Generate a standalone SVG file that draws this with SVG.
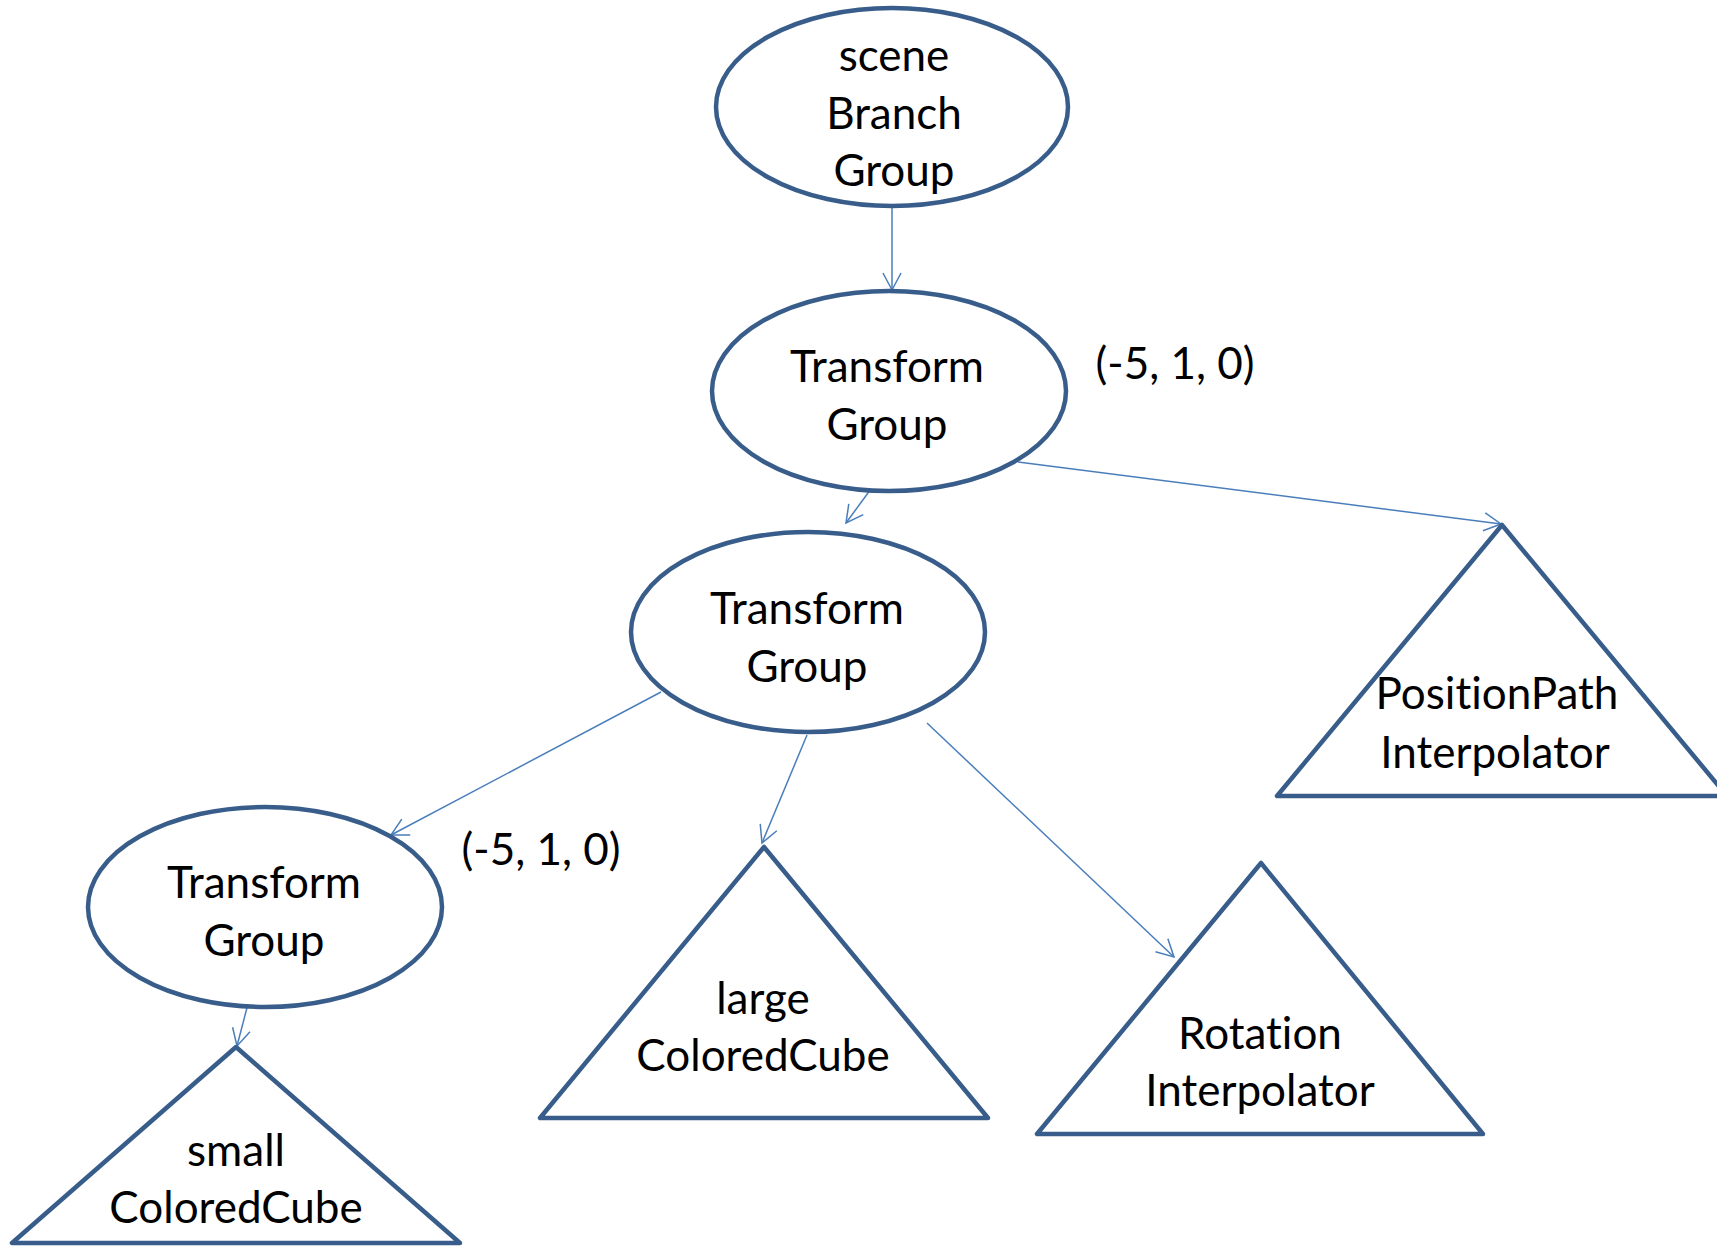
<svg xmlns="http://www.w3.org/2000/svg" width="1717" height="1246" viewBox="0 0 1717 1246">
<style>
.node{fill:#ffffff;stroke:#385D8A;stroke-width:4.5;stroke-linejoin:round}
.lbl{font-family:Lato,"Liberation Sans",sans-serif;font-size:44px;fill:#000000;text-anchor:middle;font-variant-ligatures:none;font-feature-settings:"liga" 0}
.conn{stroke:#4A7EBB;stroke-width:1.5;fill:none;marker-end:url(#arr)}
</style>
<defs>
<marker id="arr" markerUnits="userSpaceOnUse" markerWidth="24" markerHeight="24" viewBox="-20 -12 24 24" refX="0" refY="0" orient="auto">
<path d="M-17,-9 L0,0 L-17,9" fill="none" stroke="#4A7EBB" stroke-width="1.5"/>
</marker>
</defs>
<g id="connectors">
<line class="conn" x1="892" y1="207" x2="892" y2="290"/>
<line class="conn" x1="876" y1="482" x2="846" y2="523"/>
<line class="conn" x1="1018" y1="462" x2="1501" y2="524"/>
<line class="conn" x1="661" y1="692" x2="391" y2="835"/>
<line class="conn" x1="807" y1="735" x2="762" y2="843"/>
<line class="conn" x1="927" y1="723" x2="1174" y2="957"/>
<line class="conn" x1="249" y1="1000" x2="237" y2="1046"/>
</g>
<g id="scene-branch-group">
<ellipse class="node" cx="892" cy="107" rx="176" ry="99"/>
<text class="lbl" x="894" y="71">scene</text>
<text class="lbl" x="894" y="129">Branch</text>
<text class="lbl" x="894" y="186">Group</text>
</g>
<g id="transform-group-1">
<ellipse class="node" cx="889" cy="391" rx="177" ry="100"/>
<text class="lbl" x="887" y="382">Transform</text>
<text class="lbl" x="887" y="440">Group</text>
</g>
<g id="label-1">
<text class="lbl" x="1175" y="379">(-5, 1, 0)</text>
</g>
<g id="transform-group-2">
<ellipse class="node" cx="808" cy="632" rx="177" ry="100"/>
<text class="lbl" x="807" y="624">Transform</text>
<text class="lbl" x="807" y="682">Group</text>
</g>
<g id="transform-group-3">
<ellipse class="node" cx="265" cy="907" rx="177" ry="100"/>
<text class="lbl" x="264" y="898">Transform</text>
<text class="lbl" x="264" y="956">Group</text>
</g>
<g id="label-2">
<text class="lbl" x="541" y="865">(-5, 1, 0)</text>
</g>
<g id="position-path-interpolator">
<polygon class="node" points="1502,525 1277,796 1727,796"/>
<text class="lbl" x="1497" y="709">PositionPath</text>
<text class="lbl" x="1495" y="768">Interpolator</text>
</g>
<g id="large-colored-cube">
<polygon class="node" points="764,847 540,1118 988,1118"/>
<text class="lbl" x="763" y="1014">large</text>
<text class="lbl" x="763" y="1071">ColoredCube</text>
</g>
<g id="rotation-interpolator">
<polygon class="node" points="1261,863 1037,1134 1483,1134"/>
<text class="lbl" x="1260" y="1049">Rotation</text>
<text class="lbl" x="1260" y="1106">Interpolator</text>
</g>
<g id="small-colored-cube">
<polygon class="node" points="236,1047 12,1243 460,1243"/>
<text class="lbl" x="236" y="1166">small</text>
<text class="lbl" x="236" y="1223">ColoredCube</text>
</g>
</svg>
